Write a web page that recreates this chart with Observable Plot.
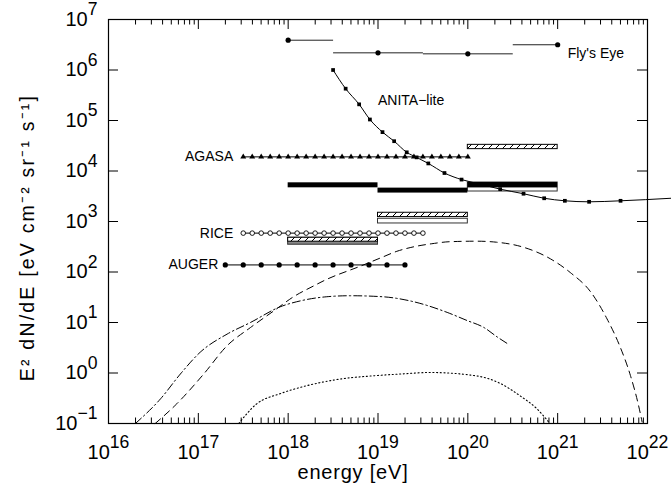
<!DOCTYPE html>
<html><head><meta charset="utf-8">
<script src="https://cdn.jsdelivr.net/npm/d3@7"></script>
<script src="https://cdn.jsdelivr.net/npm/@observablehq/plot@0.6"></script>
<style>
html,body{margin:0;padding:0;background:#fff;}
#chart svg{display:block;}
</style></head><body><div id="chart"></div>
<script>
// ---- axis ticks (exponents of 10) ----
const xTickExp = [16, 17, 18, 19, 20, 21, 22];
const yTickExp = [-1, 0, 1, 2, 3, 4, 5, 6, 7];

// ---- Fly's Eye (log10 E range, point, log10 flux) ----
const flyLogE1 = [18.0, 18.5, 19.5, 20.5];
const flyLogE2 = [18.5, 19.5, 20.5, 21.0];
const flyPointLogE = [18.0, 19.0, 20.0, 21.0];
const flyLogF = [6.59, 6.34, 6.32, 6.50];

// ---- ANITA-lite ----
const anitaLogE = [18.50, 18.64, 18.79, 18.91, 19.05, 19.18, 19.32, 19.43, 19.56, 19.74, 19.93, 20.14, 20.36, 20.62, 20.85, 21.08, 21.35, 21.70];
const anitaLogF = [6.00, 5.63, 5.32, 5.02, 4.77, 4.59, 4.37, 4.27, 4.15, 3.96, 3.83, 3.74, 3.64, 3.55, 3.46, 3.41, 3.39, 3.41];
const anitaTailLogE = 22.26, anitaTailLogF = 3.46;

// ---- AGASA ----
const agasaLogE = [17.5, 17.6, 17.7, 17.8, 17.9, 18.0, 18.1, 18.2, 18.3, 18.4, 18.5, 18.6, 18.7, 18.8, 18.9, 19.0, 19.1, 19.2, 19.3, 19.4, 19.5, 19.6, 19.7, 19.8, 19.9, 20.0];
const agasaLogF = 4.28;

// ---- RICE ----
const riceLogE = [17.5, 17.6, 17.7, 17.8, 17.9, 18.0, 18.1, 18.2, 18.3, 18.4, 18.5, 18.6, 18.7, 18.8, 18.9, 19.0, 19.1, 19.2, 19.3, 19.4, 19.5];
const riceLogF = 2.77;

// ---- AUGER ----
const augerLogE = [17.3, 17.5, 17.7, 17.9, 18.1, 18.3, 18.5, 18.7, 18.9, 19.1, 19.3];
const augerLogF = 2.14;

// ---- black bars ----
const barLogE1 = [18, 19, 20];
const barLogE2 = [19, 20, 21];
const barLogLo = [3.667, 3.563, 3.665];
const barLogHi = [3.766, 3.661, 3.772];

// ---- open boxes ----
const openLogE1 = [20, 19];
const openLogE2 = [21, 20];
const openLogLo = [3.594, 2.961];
const openLogHi = [3.772, 3.054];

// ---- hatched boxes ----
const hatchLogE1 = [20, 19, 18];
const hatchLogE2 = [21, 20, 19];
const hatchLogLo = [4.433, 3.088, 2.600];
const hatchLogHi = [4.518, 3.173, 2.678];

// ---- grey box under lower hatched box ----
const greyLogE1 = [18], greyLogE2 = [19], greyLogLo = [2.540], greyLogHi = [2.678];

// ---- model curves [log10 E, log10 flux] ----
const dashed = [[16.52,-1.0],[16.76,-0.61],[17.06,-0.02],[17.32,0.54],[17.58,0.90],[17.84,1.23],[18.06,1.51],[18.29,1.73],[18.40,1.83],[18.81,2.12],[19.03,2.28],[19.21,2.41],[19.40,2.50],[19.60,2.56],[19.80,2.60],[20.10,2.61],[20.32,2.59],[20.62,2.49],[20.92,2.26],[21.14,1.99],[21.37,1.60],[21.55,1.07],[21.69,0.54],[21.81,-0.05],[21.90,-0.64],[21.94,-0.97]];
const dashDot = [[16.30,-1.0],[16.58,-0.51],[16.80,-0.02],[17.02,0.41],[17.32,0.77],[17.58,1.00],[17.91,1.31],[18.14,1.43],[18.43,1.51],[18.69,1.53],[19.05,1.51],[19.40,1.41],[19.77,1.20],[19.99,1.04],[20.18,0.90],[20.33,0.71],[20.46,0.56]];
const dotted = [[17.45,-1.0],[17.65,-0.61],[17.91,-0.41],[18.21,-0.25],[18.58,-0.12],[18.99,-0.05],[19.25,-0.02],[19.58,0.01],[20.07,-0.05],[20.33,-0.18],[20.58,-0.45],[20.77,-0.71],[20.90,-0.97]];

// ---- text labels ----
const labelNames = ["Fly's Eye", "ANITA\u2212lite", "AGASA", "RICE", "AUGER"];
const labelLogE = [flyPointLogE[3], 19.0, agasaLogE[0], riceLogE[0], augerLogE[0]];
const labelLogF = [flyLogF[3], 5.39, agasaLogF, riceLogF, augerLogF];
const labelDx = [10, 0, -10, -10, -7];
const labelDy = [9, 0, 0, 0, 0];
const labelAnchor = ["start", "start", "end", "end", "end"];

const xTitle = "energy [eV]";
const yTitle = "E\u00B2 dN/dE [eV cm\u207B\u00B2 sr\u207B\u00B9 s\u207B\u00B9]";

// ---------------------------------------------------------
const P = v => Math.pow(10, v);
const W = 671, H = 487, mL = 108, mR = 24, mT = 19, mB = 64;
const innerW = W - mL - mR, innerH = H - mT - mB;
const FONT = "'Liberation Sans', Arial, sans-serif";

const xMajor = xTickExp.map(P);
const yMajor = yTickExp.map(P);
const xMinor = [];
for (let k = xTickExp[0]; k < xTickExp[xTickExp.length - 1]; k++) for (let m = 2; m <= 9; m++) xMinor.push(m * P(k));

const idx = a => a.map((_, i) => i);
const fly = idx(flyLogF);
const anita = idx(anitaLogE);
const anitaLine = anitaLogE.map((e, i) => [e, anitaLogF[i]]).concat([[anitaTailLogE, anitaTailLogF]]);
const labels = idx(labelNames);

const supFmt = e => "10^" + (e < 0 ? "\u2212" + (-e) : e);

const marks = [
  // tick marks (inward)
  Plot.ruleX(xMajor, {x: d => d, insetTop: innerH - 10, stroke: "black"}),
  Plot.ruleX(xMajor, {x: d => d, insetBottom: innerH - 10, stroke: "black"}),
  Plot.ruleX(xMinor, {x: d => d, insetTop: innerH - 5.5, stroke: "black"}),
  Plot.ruleX(xMinor, {x: d => d, insetBottom: innerH - 5.5, stroke: "black"}),
  Plot.ruleY(yMajor, {y: d => d, insetRight: innerW - 10, stroke: "black"}),
  Plot.ruleY(yMajor, {y: d => d, insetLeft: innerW - 10, stroke: "black"}),
  Plot.frame({stroke: "black", strokeWidth: 1.2}),
  Plot.axisX(xMajor, {anchor: "bottom", tickSize: 0, tickPadding: 21, label: null, fontSize: 20, fontFamily: FONT,
    tickFormat: d => supFmt(Math.round(Math.log10(d)))}),
  Plot.axisY(yMajor, {anchor: "left", tickSize: 0, tickPadding: 11, label: null, fontSize: 20, fontFamily: FONT,
    tickFormat: d => supFmt(Math.round(Math.log10(d)))}),
  // model curves
  Plot.line(dashed, {x: d => P(d[0]), y: d => P(d[1]), stroke: "black", strokeWidth: 1, strokeDasharray: "7,5", curve: "monotone-x"}),
  Plot.line(dashDot, {x: d => P(d[0]), y: d => P(d[1]), stroke: "black", strokeWidth: 1, strokeDasharray: "8,3,1.5,3", curve: "monotone-x"}),
  Plot.line(dotted, {x: d => P(d[0]), y: d => P(d[1]), stroke: "black", strokeWidth: 1.1, strokeDasharray: "1.1,2.6", curve: "monotone-x"}),
  // boxes
  Plot.rect(idx(greyLogE1), {x1: i => P(greyLogE1[i]), x2: i => P(greyLogE2[i]), y1: i => P(greyLogLo[i]), y2: i => P(greyLogHi[i]), fill: "#888", stroke: "#333", strokeWidth: 1}),
  Plot.rect(idx(hatchLogE1), {x1: i => P(hatchLogE1[i]), x2: i => P(hatchLogE2[i]), y1: i => P(hatchLogLo[i]), y2: i => P(hatchLogHi[i]), fill: "url(#hatch)", stroke: "black", strokeWidth: 1}),
  Plot.rect(idx(openLogE1), {x1: i => P(openLogE1[i]), x2: i => P(openLogE2[i]), y1: i => P(openLogLo[i]), y2: i => P(openLogHi[i]), fill: "white", stroke: "#333", strokeWidth: 1}),
  Plot.rect(idx(barLogE1), {x1: i => P(barLogE1[i]), x2: i => P(barLogE2[i]), y1: i => P(barLogLo[i]), y2: i => P(barLogHi[i]), fill: "black"}),
  // Fly's Eye
  Plot.link(fly, {x1: i => P(flyLogE1[i]), x2: i => P(flyLogE2[i]), y1: i => P(flyLogF[i]), y2: i => P(flyLogF[i]), stroke: "#222", strokeWidth: 1}),
  Plot.dot(fly, {x: i => P(flyPointLogE[i]), y: i => P(flyLogF[i]), r: 2.6, fill: "black", stroke: "none"}),
  // ANITA-lite
  Plot.line(anitaLine, {x: d => P(d[0]), y: d => P(d[1]), stroke: "black", strokeWidth: 1, curve: "monotone-x"}),
  Plot.dot(anita, {x: i => P(anitaLogE[i]), y: i => P(anitaLogF[i]), symbol: "square", r: 2.1, fill: "black", stroke: "none"}),
  // AGASA
  Plot.lineY(agasaLogE, {x: d => P(d), y: () => P(agasaLogF), stroke: "black", strokeWidth: 1}),
  Plot.dot(agasaLogE, {x: d => P(d), y: () => P(agasaLogF), symbol: "triangle", r: 2.2, fill: "black", stroke: "none"}),
  // RICE
  Plot.lineY(riceLogE, {x: d => P(d), y: () => P(riceLogF), stroke: "black", strokeWidth: 1}),
  Plot.dot(riceLogE, {x: d => P(d), y: () => P(riceLogF), r: 2.3, fill: "white", stroke: "black", strokeWidth: 0.9}),
  // AUGER
  Plot.lineY(augerLogE, {x: d => P(d), y: () => P(augerLogF), stroke: "black", strokeWidth: 1}),
  Plot.dot(augerLogE, {x: d => P(d), y: () => P(augerLogF), r: 2.6, fill: "black", stroke: "none"}),
  // series labels
  ...labels.map(i => Plot.text([labelNames[i]], {x: () => P(labelLogE[i]), y: () => P(labelLogF[i]), text: d => d,
    dx: labelDx[i], dy: labelDy[i], textAnchor: labelAnchor[i], fontSize: 14, fontFamily: FONT, fill: "black"})),
  // axis titles
  Plot.text([xTitle], {frameAnchor: "bottom", textAnchor: "middle", lineAnchor: "middle", text: d => d, dx: -25, dy: 49, fontSize: 20, fontFamily: FONT, fill: "black"}),
  Plot.text([yTitle], {frameAnchor: "left", textAnchor: "middle", lineAnchor: "middle", text: d => d, rotate: -90, dx: -81, dy: 16, fontSize: 19.5, fontFamily: FONT, fill: "black"})
];

const svg = Plot.plot({
  width: W, height: H,
  marginLeft: mL, marginRight: mR, marginTop: mT, marginBottom: mB,
  x: {type: "log", domain: [P(16), P(22)]},
  y: {type: "log", domain: [P(-1), P(7)]},
  style: {background: "white", fontFamily: FONT, color: "black", overflow: "visible"},
  marks
});

// hatch pattern
d3.select(svg).insert("defs", ":first-child").html(
  '<pattern id="hatch" patternUnits="userSpaceOnUse" width="7" height="7">' +
  '<rect width="7" height="7" fill="white"/>' +
  '<path d="M-1,8 L8,-1 M-1,1 L1,-1 M6,8 L8,6" stroke="black" stroke-width="1"/></pattern>');

// superscript exponents on tick labels
d3.select(svg).selectAll('g[aria-label="x-axis tick label"] text, g[aria-label="y-axis tick label"] text').each(function () {
  const t = d3.select(this);
  const parts = t.text().split("^");
  if (parts.length !== 2) return;
  t.text(null);
  t.append("tspan").text(parts[0]);
  t.append("tspan").attr("dy", "-0.6em").attr("font-size", "0.88em").text(parts[1]);
});

// wider letter spacing on axis titles, as in the reference
d3.select(svg).selectAll("text").filter(function () { return this.textContent === yTitle; }).attr("letter-spacing", "2.2px");
d3.select(svg).selectAll("text").filter(function () { return this.textContent === xTitle; }).attr("letter-spacing", "0.8px");

document.getElementById("chart").appendChild(svg);
</script></body></html>
